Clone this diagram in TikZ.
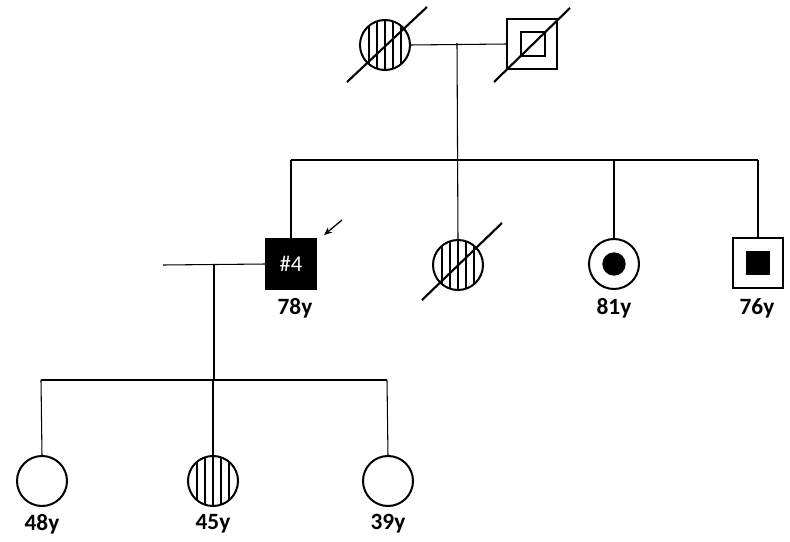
\documentclass[tikz,border=0pt]{standalone}
\usepackage{fontspec}
\setmainfont{Carlito}
\usetikzlibrary{arrows.meta}
\begin{document}
\begin{tikzpicture}[x=0.75pt,y=-0.75pt,
  female/.style={circle,draw,line width=1.5pt,minimum size=37.5pt,inner sep=0pt,outer sep=0pt},
  male/.style={rectangle,draw,line width=1.5pt,minimum size=37pt,inner sep=0pt,outer sep=0pt},
  striped/.style={path picture={
      \foreach \dx in {-16,-8,0,8,16}
        \draw[line width=1.1pt] ([xshift=\dx*0.75pt]path picture bounding box.north) -- ([xshift=\dx*0.75pt]path picture bounding box.south);}},
  conn/.style={line width=0.8pt},
  slash/.style={line width=1.6pt},
  age/.style={font=\bfseries\fontsize{17.5}{20}\selectfont,inner sep=0pt}
]
\useasboundingbox (0,0) rectangle (790,542);

% generation I
\node[female,striped] (gm) at (385,45) {};
\node[male] (gf) at (532,44) {};
\node[rectangle,draw,line width=1.5pt,minimum size=17.5pt,inner sep=0pt] (gfin) at (533,44) {};
\draw[slash] (347,82) -- (427,7);
\draw[slash] (494,82) -- (570,8);
\coordinate (m1) at (457,43);
\draw[conn] (gm.east) -- (gf.west);

% generation II
\node[male,fill=black,text=white,font=\fontsize{17}{19}\selectfont] (p4) at (291,264) {\#4};
\node[female,striped] (sib) at (458,265) {};
\node[female] (s81) at (614,264) {};
\node[circle,fill=black,minimum size=17.5pt,inner sep=0pt] (s81in) at (614,264) {};
\node[male] (s76) at (758,263) {};
\node[rectangle,fill=black,minimum size=18pt,inner sep=0pt] (s76in) at (758,263) {};
\draw[slash] (422,300) -- (502,223);

\coordinate (sA) at (291,160);
\coordinate (sB) at (758,160);
\draw[conn] (m1) -- (sib.north);
\draw[conn] (sA) -- (sB);
\draw[conn] (p4.north) -- (sA);
\draw[conn] (s81.north) -- (s81.north |- sA);
\draw[conn] (s76.north) -- (sB);

\draw[-{Stealth[length=6pt,width=5pt]},line width=1pt] (342,220) -- (324,235);

\node[age] (l78) at (295,308) {78y};
\node[age] (l81) at (614,308) {81y};
\node[age] (l76) at (757,308) {76y};

% spouse
\coordinate (sp) at (163,265);
\coordinate (m2) at (214,265);
\draw[conn] (sp) -- (p4.west);

% generation III
\node[female] (c1) at (42,481) {};
\node[female,striped] (c2) at (213,481) {};
\node[female] (c3) at (388,481) {};
\coordinate (gA) at (41,380);
\coordinate (gB) at (387,380);
\coordinate (gM) at (214,380);
\draw[conn] (m2) -- (gM);
\draw[conn] (gA) -- (gB);
\draw[conn] (gA) -- (c1.north);
\draw[conn] (c2.north) -- (c2.north |- gA);
\draw[conn] (gB) -- (c3.north);

\node[age] (l48) at (42,524) {48y};
\node[age] (l45) at (213,524) {45y};
\node[age] (l39) at (388,524) {39y};
\end{tikzpicture}
\end{document}
